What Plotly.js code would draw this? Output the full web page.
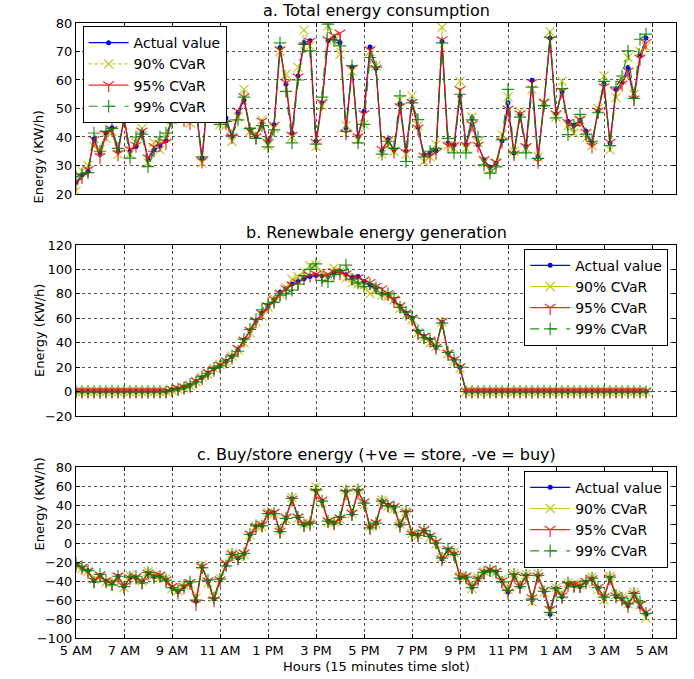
<!DOCTYPE html>
<html>
<head>
<meta charset="utf-8">
<script src="https://cdn.plot.ly/plotly-3.0.1.min.js"></script>
<style>html,body{margin:0;padding:0;background:#fff;}#chart{width:694px;height:679px;}</style>
</head>
<body>
<div id="chart"></div>
<script>
// x tick labels (every 2 hours, 8 slots of 15 minutes)
const tickVals = [0, 8, 16, 24, 32, 40, 48, 56, 64, 72, 80, 88, 96];
const tickLabels = ["5 AM","7 AM","9 AM","11 AM","1 PM","3 PM","5 PM","7 PM","9 PM","11 PM","1 AM","3 AM","5 AM"];

// a. Total energy consumption
const consActual = [24,26.7,28,39.4,34.4,41.4,43.2,35,46.5,35,
  36.7,41.4,32,35.5,36.7,38.7,47.5,49,48,47,
  50,32.6,55,52,49,46.7,40.2,48.5,53,42.6,
  40.2,45,38.2,44.3,71.4,58.5,41.4,61.4,73.2,73.8,
  38.5,52,73.8,74.7,73.2,43.2,64.6,40.2,49,71.6,
  64.1,35,39.1,35.5,51.6,35,52.4,43.4,33.8,34.4,
  35.2,73.5,37.9,37.1,54.4,37.3,46.7,37.3,32,29.3,
  30.8,38.7,52,34.4,47.9,36.7,59.9,33.2,51.4,74.7,
  48.1,55.9,45.5,44.1,45.8,42,37.9,49.1,58.7,37.9,
  56.7,59.1,64.4,54.4,68.5,74.7];
const cons90 = [21,28,30,36.7,35.5,39.6,42,34,47,34,
  38,43,31,38,35.5,40,46,48,47,45,
  49,30.8,54,51,44.4,44,38.5,47,56.7,42,
  41,46,37,43,70,62,40,64.4,77.5,72,
  36.7,51,79,74,69,44,63,39,44.4,70,
  65,34,38,35,53,34,54.4,44,31.4,33,
  37.3,78.5,37,36,59.6,36,47,38,31,28.5,
  31,40.8,54,35,49,36,56.7,33,52,77,
  47,59.6,44,41.4,46,39.6,37,50,61.4,35.5,
  53.8,60,67.9,55,70,71.6];
const cons95 = [24,26,28.5,39,33,41,42.5,34,46.5,35.5,
  37,42,32.5,36.5,37.5,38,47,48,46,45,
  50,31.5,55,52,47,45,40,49,54,42,
  40,45.5,38,44,70.5,59,40.5,61,72,73.5,
  38,52,74,75.5,76.4,41.4,64,40,48,70.5,
  64,35.5,39,35,50.5,34.5,52,43,33.2,33.2,
  34.5,74,36.8,37,56.5,37,44.3,37,32,29,
  31,38.5,49.7,34,48,36.5,59,31.4,52,74,
  48,56,45,43.5,46,41.5,36.7,49,57.5,38,
  56,58.5,63,53.2,67.5,73];
const cons99 = [26,27,27.5,41.4,35,42,43,36,45.5,32.6,
  40,41,29.6,35,40,41.4,45,48.5,48,47,
  50,33,55.5,52.5,44.4,45.5,40.5,46,54,43,
  39.5,44,36.5,42.5,73,56,37.9,60,72.5,70.2,
  37.5,54,79.6,74,72,42,65,37.9,44.4,67.9,
  64.5,34,38.5,36,54.4,31.4,52,46.1,33,35,
  36,73,39.5,34.4,55,34.4,46,40,30.2,27.3,
  29.5,39,56.7,34.4,47,34.4,57.5,32.5,51,75,
  46.7,57,40.8,44,47.9,41,38.5,48.5,59.5,37,
  57.5,61.4,70.2,53.5,74.3,76.1];

// b. Renewable energy generation
const genActual = [0,0,0,0,0,0,0,0,0,0,0,0,0,0,0,0,
  1.4,2.2,3.3,4.9,8.2,11.5,15,18.6,21.3,24.6,28.7,34.2,42.3,49.7,57.9,64.2,69.7,75.1,81.4,84.7,
  88,90.2,92.3,94.3,95.1,95.1,94.3,97,98.4,95.6,93.4,94.3,90.2,87.4,83.3,79.8,79.2,74.3,69.7,64.2,
  60.1,49.2,45.1,42.3,36.1,56.8,31.4,26,19.7,
  0,0,0,0,0,0,0,0,0,0,0,0,0,0,0,0,0,0,0,0,0,0,0,0,0,0,0,0,0,0,0];
const gen90 = [0,0,0,0,0,0,0,0,0,0,0,0,0,0,0,0,
  1,2,3,5,8,12,14,19,22,24,29,34,40,48,57,62,69,76,80,85,
  92,94,98,103,103.5,97,94,101,98,93,89,88,87,80,82,79,78,75,68,63,
  59,48,44,40,37,57,31,25,19,
  0,0,0,0,0,0,0,0,0,0,0,0,0,0,0,0,0,0,0,0,0,0,0,0,0,0,0,0,0,0,0];
const gen95 = [0,0,0,0,0,0,0,0,0,0,0,0,0,0,0,0,
  1.5,2.5,3.5,5,8.5,11,15.5,18,21.5,25,28,35,42,50,58,64,70,75,80,84,
  87,89,93,95,96,94,96,98,97,96,93,93,91,89,86,84,80,75,70,64,
  60,48,45,42,36,57,31,26,20,
  0,0,0,0,0,0,0,0,0,0,0,0,0,0,0,0,0,0,0,0,0,0,0,0,0,0,0,0,0,0,0];
const gen99 = [0,0,0,0,0,0,0,0,0,0,0,0,0,0,0,0,
  1.2,2,3,5.5,8,12,15,19,21,25,29,33,43,51,59,67,72,73,79,80,
  83,88,95,100,104.5,91,90,96,99,103.5,92,89,86,88,85,80,80,77,69,65,
  61,50,44,43,37,56,32,26,20,
  0,0,0,0,0,0,0,0,0,0,0,0,0,0,0,0,0,0,0,0,0,0,0,0,0,0,0,0,0,0,0];

// c. Buy/store energy
const bsActual = [-22.2,-26.4,-29.2,-39.8,-34.1,-40.5,-42.2,-35.2,-45.7,-36.2,
  -36.9,-40.5,-31.7,-35.2,-35.2,-38.7,-46.8,-51,-45.7,-42.2,
  -60.9,-24.6,-40.5,-58.8,-38.7,-22.9,-11.6,-15.8,-11.6,8.8,
  17.6,18.3,31.7,31.7,12.3,26.4,46.8,27.1,19.3,21.1,
  55.2,44,22.9,21.1,26.4,54.5,30.6,55.2,42.2,16.5,
  21.1,44,39.8,37.6,18.6,32.7,9.5,8.1,13,7,
  0,-16.5,-7,-11.6,-36.2,-36.2,-46.8,-37.6,-30.6,-29.2,
  -30.6,-39.8,-51.7,-34.1,-45.7,-34.1,-59.8,-34.1,-51,-74.9,
  -48.2,-56.3,-43.3,-44.7,-45.7,-41.2,-37.6,-47.5,-58,-36.9,
  -56.3,-58.8,-65.8,-53.8,-66.8,-74.9];
const bs90 = [-24,-27,-30,-38,-35,-41,-41,-36,-47,-34,
  -37,-40,-30,-34,-36,-37,-48,-50,-44,-43,
  -58,-23,-42,-57,-37,-22,-11,-14,-12,8,
  18,17,32,31,13,25,48,26,20,21,
  59,42,22,22,25,56,31,57,40,17,
  20,45,39,36,20,33,10,8,12,6,
  -1,-15,-8,-10,-35,-37,-48,-36,-30,-29,
  -31,-38,-49,-32,-44,-33,-62,-32,-52,-72,
  -47,-54,-42,-43,-44,-42,-36,-49,-60,-35,
  -54,-57,-64,-52,-65,-79];
const bs95 = [-23,-26,-30,-40,-34,-40,-43,-35,-46,-37,
  -36,-41,-32,-35,-34,-39,-46,-52,-46,-42,
  -64,-25,-40,-60,-39,-22,-12,-16,-11,9,
  17,19,31,32,12,27,46,27,19,20,
  54,45,23,21,26,53,31,54,43,16,
  21,43,40,38,18,32,9,8,14,7,
  1,-17,-7,-12,-36,-35,-46,-38,-31,-28,
  -30,-40,-52,-34,-46,-35,-58,-35,-50,-70,
  -49,-56,-44,-44,-45,-41,-38,-47,-57,-37,
  -56,-59,-66,-54,-65,-73];
const bs99 = [-22,-25,-29,-41,-33,-40,-44,-35,-46,-36,
  -35,-42,-31,-36,-35,-39,-47,-50,-45,-41,
  -60,-26,-39,-58,-38,-24,-12,-16,-11,9,
  18,18,31,31,12,26,47,27,19,21,
  56,44,23,21,27,55,30,56,42,16,
  21,44,39,38,19,33,9,8,13,7,
  0,-16,-6,-12,-37,-36,-47,-37,-31,-29,
  -30,-41,-50,-33,-46,-34,-59,-34,-51,-73,
  -48,-57,-42,-46,-46,-40,-37,-47,-57,-36,
  -55,-58,-64,-53,-62,-74];

const seriesNames = ["Actual value", "90% CVaR", "95% CVaR", "99% CVaR"];

const slots = consActual.map((_, i) => i);

const BLUE = "#0000ff", YEL = "#bfbf00", RED = "#ff0000", GRN = "#008000";

function makeTraces(data, xa, ya, leg, yellowDash) {
  const styles = [
    {color: BLUE, dash: "solid", symbol: "circle", size: 5, open: false, op: 1},
    {color: YEL, dash: yellowDash, symbol: "x-thin", size: 9, open: true, op: 0.85},
    {color: RED, dash: "solid", symbol: "y-down", size: 9, open: true, op: 0.85},
    {color: GRN, dash: "dash", symbol: "cross-thin", size: 9, open: true, op: 0.85}
  ];
  return data.map((ys, k) => {
    const s = styles[k];
    return {
      type: "scatter", mode: "lines+markers",
      x: slots, y: ys, xaxis: xa, yaxis: ya, legend: leg,
      name: seriesNames[k], opacity: s.op,
      line: {color: s.color, width: 1.2, dash: s.dash},
      marker: s.open
        ? {symbol: s.symbol, size: s.size, color: s.color, line: {color: s.color, width: 1.2}}
        : {symbol: s.symbol, size: s.size, color: s.color, line: {width: 0}}
    };
  });
}

const traces = [].concat(
  makeTraces([consActual, cons90, cons95, cons99], "x", "y", "legend", "dot"),
  makeTraces([genActual, gen90, gen95, gen99], "x2", "y2", "legend2", "solid"),
  makeTraces([bsActual, bs90, bs95, bs99], "x3", "y3", "legend3", "solid")
);

const FONT = "DejaVu Sans, sans-serif";
function xAxis(anchor, labels) {
  return {
    anchor: anchor, domain: [0, 1], range: [0, 100],
    tickmode: "array", tickvals: tickVals, ticktext: tickLabels,
    showticklabels: labels, ticks: "inside", ticklen: 4, tickcolor: "#000",
    mirror: "allticks", showline: true, linecolor: "#000", linewidth: 1,
    showgrid: true, gridcolor: "#555", griddash: "dot", gridwidth: 1,
    zeroline: false, tickfont: {family: FONT, size: 13, color: "#000"}
  };
}
function yAxis(anchor, dom, rng, dt) {
  return {
    anchor: anchor, domain: dom, range: rng, dtick: dt, tick0: rng[0],
    ticks: "inside", ticklen: 4, tickcolor: "#000",
    mirror: "allticks", showline: true, linecolor: "#000", linewidth: 1,
    showgrid: true, gridcolor: "#555", griddash: "dot", gridwidth: 1,
    zeroline: false, tickfont: {family: FONT, size: 13, color: "#000"}
  };
}
const legBase = {bgcolor: "#fff", bordercolor: "#000", borderwidth: 1,
  font: {family: FONT, size: 14, color: "#000"}, itemwidth: 40, tracegroupgap: 0};

const domA = [0.722, 1], domB = [0.361, 0.639], domC = [0, 0.278];

function ann(text, x, y, opts) {
  return Object.assign({text: text, x: x, y: y, xref: "paper", yref: "paper",
    xanchor: "center", showarrow: false, font: {family: FONT, size: 16, color: "#000"}}, opts || {});
}

const layout = {
  width: 694, height: 679,
  margin: {l: 76, r: 18, t: 23, b: 41},
  paper_bgcolor: "#fff", plot_bgcolor: "#fff",
  font: {family: FONT, color: "#000"},
  xaxis: xAxis("y", false),
  xaxis2: xAxis("y2", false),
  xaxis3: xAxis("y3", true),
  yaxis: yAxis("x", domA, [20, 80], 10),
  yaxis2: yAxis("x2", domB, [-20, 120], 20),
  yaxis3: yAxis("x3", domC, [-100, 80], 20),
  legend: Object.assign({}, legBase, {x: 0.011, y: 0.995, xanchor: "left", yanchor: "top"}),
  legend2: Object.assign({}, legBase, {x: 0.987, y: 0.633, xanchor: "right", yanchor: "top"}),
  legend3: Object.assign({}, legBase, {x: 0.987, y: 0.272, xanchor: "right", yanchor: "top"}),
  annotations: [
    ann("a. Total energy consumption", 0.5, domA[1], {yanchor: "bottom", yshift: 1}),
    ann("b. Renewbale energy generation", 0.5, domB[1], {yanchor: "bottom", yshift: 1}),
    ann("c. Buy/store energy (+ve = store, -ve = buy)", 0.5, domC[1], {yanchor: "bottom", yshift: 1}),
    ann("Energy (KW/h)", -0.061, (domA[0] + domA[1]) / 2, {textangle: -90, font: {family: FONT, size: 13, color: "#000"}}),
    ann("Energy (KW/h)", -0.061, (domB[0] + domB[1]) / 2, {textangle: -90, font: {family: FONT, size: 13, color: "#000"}}),
    ann("Energy (KW/h)", -0.061, (domC[0] + domC[1]) / 2, {textangle: -90, font: {family: FONT, size: 13, color: "#000"}}),
    ann("Hours (15 minutes time slot)", 0.5, -0.047, {yanchor: "middle", font: {family: FONT, size: 13, color: "#000"}})
  ]
};

Plotly.newPlot("chart", traces, layout, {displayModeBar: false, staticPlot: true});
</script>
</body>
</html>
